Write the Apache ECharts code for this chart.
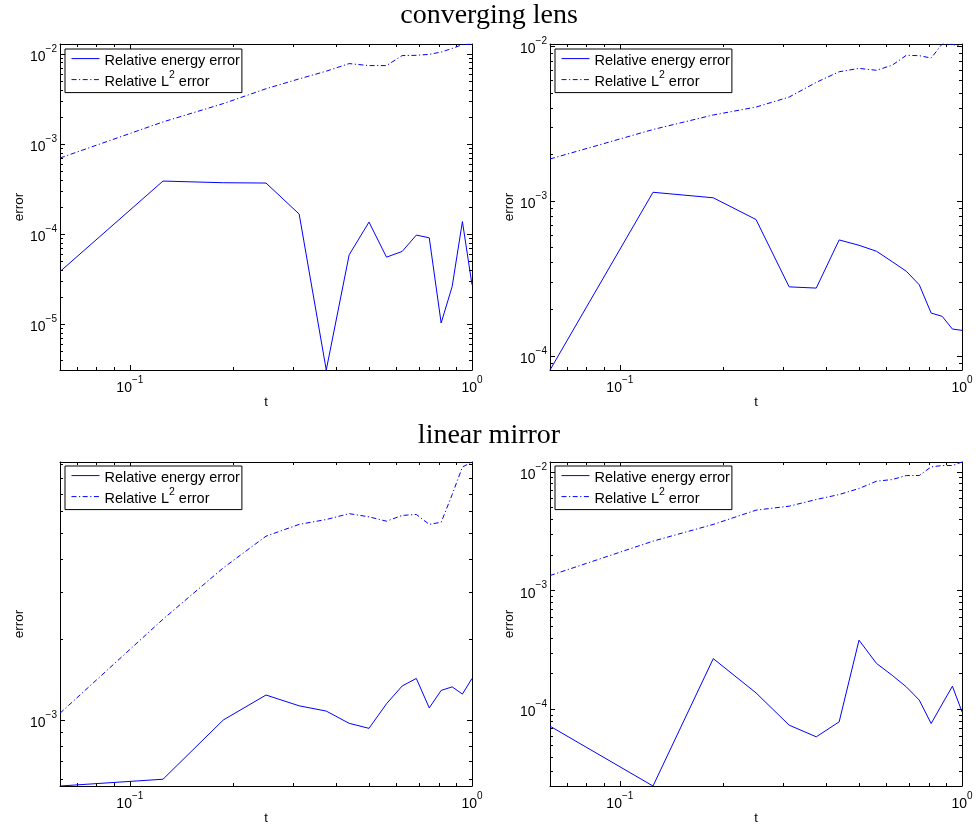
<!DOCTYPE html>
<html>
<head>
<meta charset="utf-8">
<script src="https://cdn.jsdelivr.net/npm/echarts@6/dist/echarts.min.js"></script>
<style>
  html, body { margin: 0; padding: 0; background: #fff; }
  #chart { width: 978px; height: 828px; }
</style>
</head>
<body>
<div id="chart"></div>
<script>
// Time samples (t = k/16)
const t = [0.0625, 0.125, 0.1875, 0.25, 0.3125, 0.375, 0.4375, 0.5,
           0.5625, 0.625, 0.6875, 0.75, 0.8125, 0.875, 0.9375, 1];

// converging lens, left panel
const lensEnergyA = [3.84e-5, 3.88e-4, 3.72e-4, 3.69e-4, 1.67e-4, 3.1e-6, 5.89e-5, 1.36e-4,
                     5.55e-5, 6.42e-5, 9.75e-5, 9.1e-5, 1.03e-5, 2.62e-5, 1.38e-4, 2.74e-5];
const lensL2A     = [7.0e-4, 1.76e-3, 2.81e-3, 4.11e-3, 5.29e-3, 6.44e-3, 7.82e-3, 7.43e-3,
                     7.43e-3, 9.6e-3, 9.66e-3, 9.9e-3, 1.05e-2, 1.15e-2, 1.27e-2, 1.29e-2];
// converging lens, right panel
const lensEnergyB = [8.1e-5, 1.14e-3, 1.05e-3, 7.6e-4, 2.79e-4, 2.74e-4, 5.61e-4, 5.18e-4,
                     4.74e-4, 4.06e-4, 3.52e-4, 2.88e-4, 1.89e-4, 1.80e-4, 1.49e-4, 1.46e-4];
const lensL2B     = [1.87e-3, 2.9e-3, 3.6e-3, 4.05e-3, 4.7e-3, 5.85e-3, 6.85e-3, 7.2e-3,
                     7.0e-3, 7.55e-3, 8.75e-3, 8.7e-3, 8.4e-3, 1.035e-2, 1.03e-2, 9.95e-3];
// linear mirror, left panel
const mirrorEnergyA = [5.67e-4, 6.01e-4, 1.0e-3, 1.24e-3, 1.13e-3, 1.08e-3, 9.72e-4, 9.31e-4,
                       1.15e-3, 1.34e-3, 1.43e-3, 1.11e-3, 1.29e-3, 1.33e-3, 1.25e-3, 1.43e-3];
const mirrorL2A     = [1.06e-3, 2.38e-3, 3.70e-3, 4.86e-3, 5.38e-3, 5.61e-3, 5.90e-3, 5.74e-3,
                       5.53e-3, 5.81e-3, 5.86e-3, 5.38e-3, 5.48e-3, 6.95e-3, 8.81e-3, 9.2e-3];
// linear mirror, right panel
const mirrorEnergyB = [7.24e-5, 2.27e-5, 2.68e-4, 1.38e-4, 7.38e-5, 5.89e-5, 7.87e-5, 3.83e-4,
                       2.44e-4, 1.94e-4, 1.55e-4, 1.20e-4, 7.62e-5, 1.11e-4, 1.57e-4, 9.55e-5];
const mirrorL2B     = [1.34e-3, 2.61e-3, 3.61e-3, 4.76e-3, 5.14e-3, 5.85e-3, 6.44e-3, 7.24e-3,
                       8.34e-3, 8.61e-3, 9.31e-3, 9.31e-3, 1.10e-2, 1.13e-2, 1.13e-2, 1.21e-2];

// Tick values
const xMajorTicks = [0.1, 1];
const xMinorTicks = [0.07, 0.08, 0.09, 0.2, 0.3, 0.4, 0.5, 0.6, 0.7, 0.8, 0.9];
const yDecades = [1e-6, 1e-5, 1e-4, 1e-3, 1e-2, 1e-1];
const yMantissas = [2, 3, 4, 5, 6, 7, 8, 9];

const titles = ['converging lens', 'linear mirror'];
const ENERGY = 'Relative energy error';
const L2 = 'Relative L2 error';

const sans = '"Liberation Sans", Arial, Helvetica, sans-serif';
const serif = '"Liberation Serif", "Times New Roman", serif';
const blue = '#0000ff';

const tickRich = {
  b: { fontSize: 14, lineHeight: 20, verticalAlign: 'bottom', fontFamily: sans, color: '#000' },
  s: { fontSize: 10, lineHeight: 8, verticalAlign: 'top', fontFamily: sans, color: '#000' }
};
function powerLabel(v) {
  const e = Math.round(Math.log10(v));
  return '{b|10}{s|' + (e < 0 ? '\u2212' + (-e) : String(e)) + '}';
}

const panels = [
  { grid: { left: 60, top: 44, width: 412, height: 326 }, energy: lensEnergyA, l2: lensL2A, legend: [65, 49] },
  { grid: { left: 550, top: 44, width: 412, height: 326 }, energy: lensEnergyB, l2: lensL2B, legend: [555, 49] },
  { grid: { left: 60, top: 462, width: 412, height: 324 }, energy: mirrorEnergyA, l2: mirrorL2A, legend: [65, 466] },
  { grid: { left: 550, top: 462, width: 412, height: 324 }, energy: mirrorEnergyB, l2: mirrorL2B, legend: [555, 466] }
];

const titleStyle = { fontFamily: serif, fontSize: 28, fontWeight: 'normal', color: '#000' };
const option = {
  animation: false,
  backgroundColor: '#fff',
  title: [
    { text: titles[0], left: 'center', top: -3, textStyle: titleStyle },
    { text: titles[1], left: 'center', top: 417, textStyle: titleStyle }
  ],
  grid: [], xAxis: [], yAxis: [], legend: [], series: []
};

panels.forEach((p, g) => {
  option.grid.push(Object.assign({ containLabel: false }, p.grid));
  const all = p.energy.concat(p.l2);
  const yLo = Math.min.apply(null, all), yHi = Math.max.apply(null, all);
  const inY = v => v >= yLo && v <= yHi;
  const yMaj = yDecades.filter(inY);
  const yMin = [];
  yDecades.forEach(d => yMantissas.forEach(m => { const v = m * d; if (inY(v)) yMin.push(v); }));

  const line = { show: true, onZero: false, lineStyle: { color: '#000', width: 1 } };
  const baseX = { type: 'log', logBase: 10, gridIndex: g, min: t[0], max: t[t.length - 1], splitLine: { show: false } };
  const baseY = { type: 'log', logBase: 10, gridIndex: g, min: yLo, max: yHi, splitLine: { show: false } };
  const tick = (vals, len) => ({ show: true, inside: true, length: len, customValues: vals, lineStyle: { color: '#000', width: 1 } });

  const xi = option.xAxis.length, yi = option.yAxis.length;
  // bottom: frame line, major ticks and labels, axis name
  option.xAxis.push(Object.assign({}, baseX, {
    position: 'bottom', axisLine: line, axisTick: tick(xMajorTicks, 5),
    axisLabel: { show: true, customValues: xMajorTicks, margin: 5, formatter: powerLabel, rich: tickRich },
    name: 't', nameLocation: 'middle', nameGap: 22,
    nameTextStyle: { fontFamily: sans, fontSize: 13, color: '#000' }
  }));
  option.xAxis.push(Object.assign({}, baseX, { position: 'bottom', axisLine: { show: false }, axisTick: tick(xMinorTicks, 3), axisLabel: { show: false } }));
  option.xAxis.push(Object.assign({}, baseX, { position: 'top', axisLine: line, axisTick: tick(xMajorTicks, 5), axisLabel: { show: false } }));
  option.xAxis.push(Object.assign({}, baseX, { position: 'top', axisLine: { show: false }, axisTick: tick(xMinorTicks, 3), axisLabel: { show: false } }));

  option.yAxis.push(Object.assign({}, baseY, {
    position: 'left', axisLine: line, axisTick: tick(yMaj, 5),
    axisLabel: { show: true, customValues: yMaj, margin: 3, formatter: powerLabel, rich: tickRich },
    name: 'error', nameLocation: 'middle', nameGap: 34,
    nameTextStyle: { fontFamily: sans, fontSize: 13.5, color: '#000' }
  }));
  option.yAxis.push(Object.assign({}, baseY, { position: 'left', axisLine: { show: false }, axisTick: tick(yMin, 3), axisLabel: { show: false } }));
  option.yAxis.push(Object.assign({}, baseY, { position: 'right', axisLine: line, axisTick: tick(yMaj, 5), axisLabel: { show: false } }));
  option.yAxis.push(Object.assign({}, baseY, { position: 'right', axisLine: { show: false }, axisTick: tick(yMin, 3), axisLabel: { show: false } }));

  option.series.push({
    name: ENERGY, type: 'line', xAxisIndex: xi, yAxisIndex: yi, symbol: 'none',
    lineStyle: { color: blue, width: 1 }, itemStyle: { color: blue },
    data: t.map((x, i) => [x, p.energy[i]])
  });
  option.series.push({
    name: L2, type: 'line', xAxisIndex: xi, yAxisIndex: yi, symbol: 'none',
    lineStyle: { color: blue, width: 1, type: [5, 2.5, 1.2, 2.5] }, itemStyle: { color: blue },
    data: t.map((x, i) => [x, p.l2[i]])
  });

  option.legend.push({
    left: p.legend[0], top: p.legend[1], orient: 'vertical',
    data: [ENERGY, L2], selectedMode: false,
    backgroundColor: '#fff', borderColor: '#000', borderWidth: 1,
    padding: [4, 2, 3, 6], itemGap: 1, itemWidth: 28, itemHeight: 14,
    itemStyle: { opacity: 0 }, lineStyle: { width: 1 },
    formatter: name => name === L2 ? '{n|Relative L}{s|2}{n| error}' : '{n|' + name + '}',
    textStyle: {
      fontFamily: sans, fontSize: 14.5, color: '#000',
      rich: {
        n: { fontSize: 14.5, lineHeight: 20, verticalAlign: 'bottom', fontFamily: sans, color: '#000' },
        s: { fontSize: 10.5, lineHeight: 9, verticalAlign: 'top', fontFamily: sans, color: '#000' }
      }
    }
  });
});

const chart = echarts.init(document.getElementById('chart'), null, { renderer: 'canvas' });
chart.setOption(option);
</script>
</body>
</html>
